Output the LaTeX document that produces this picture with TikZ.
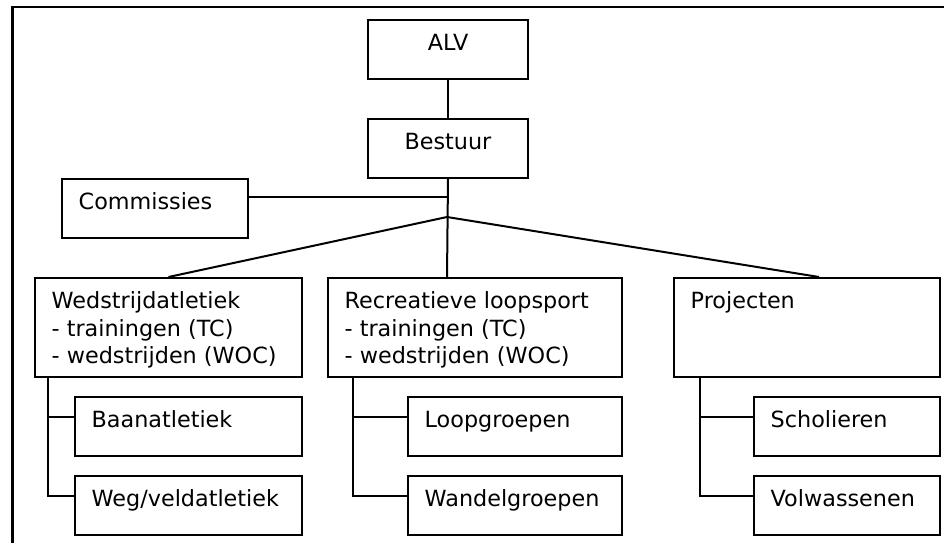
\documentclass[tikz,border=0pt]{standalone}
\usepackage{fontspec}
\setmainfont{DejaVu Sans}
\usetikzlibrary{calc}
\tikzset{
  box/.style={draw, line width=2pt, rectangle, inner sep=0pt, anchor=north west},
  txt/.style={anchor=base west, inner sep=0pt, font=\fontsize{22.3}{27.5}\selectfont},
  conn/.style={line width=2pt},
  frame/.style={line width=2.2pt}
}
\newcommand{\mybox}[5]{% name, x1, y1, x2, y2
  \node[box, minimum width={(#4-#2)*1pt}, minimum height={(#5-#3)*1pt}] (#1) at (#2,#3) {};}
\begin{document}
\begin{tikzpicture}[x=1pt,y=-1pt]
\useasboundingbox (0,0) rectangle (944,543);
\draw[frame] (12.5,543) -- (12.5,7) -- (944,7);
% boxes
\mybox{alv}{367}{19}{527}{78}
\mybox{bes}{367}{118}{527}{177}
\mybox{com}{61}{178}{247}{237}
\mybox{wed}{34}{277}{301}{376}
\mybox{rec}{327}{277}{621}{376}
\mybox{pro}{673}{277}{939}{376}
\mybox{baan}{74}{396}{301}{455}
\mybox{weg}{74}{475}{301}{534}
\mybox{loop}{407}{396}{621}{455}
\mybox{wand}{407}{475}{621}{534}
\mybox{schol}{753}{396}{939}{455}
\mybox{volw}{753}{475}{939}{534}
% texts
\node[txt, anchor=base] (talv) at ($(alv.north)+(0,31.5)$) {ALV};
\node[txt, anchor=base] (tbes) at ($(bes.north)+(0,31.5)$) {Bestuur};
\node[txt] (tcom) at ($(com.north west)+(17.5,31.5)$) {Commissies};
\node[txt] (twed) at ($(wed.north west)+(17.5,31.5)$) {\begin{tabular}[t]{@{}l@{}}Wedstrijdatletiek\\- trainingen (TC)\\- wedstrijden (WOC)\end{tabular}};
\node[txt] (trec) at ($(rec.north west)+(17.5,31.5)$) {\begin{tabular}[t]{@{}l@{}}Recreatieve loopsport\\- trainingen (TC)\\- wedstrijden (WOC)\end{tabular}};
\node[txt] (tpro) at ($(pro.north west)+(17.5,31.5)$) {Projecten};
\node[txt] (tbaan) at ($(baan.north west)+(17.5,31.5)$) {Baanatletiek};
\node[txt] (tweg) at ($(weg.north west)+(17.5,31.5)$) {Weg/veldatletiek};
\node[txt] (tloop) at ($(loop.north west)+(17.5,31.5)$) {Loopgroepen};
\node[txt] (twand) at ($(wand.north west)+(17.5,31.5)$) {Wandelgroepen};
\node[txt] (tschol) at ($(schol.north west)+(17.5,31.5)$) {Scholieren};
\node[txt] (tvolw) at ($(volw.north west)+(17.5,31.5)$) {Volwassenen};
% connectors
\coordinate (j) at (447,217);
\coordinate (cj) at (447,197);
\draw[conn] (alv.south) -- (bes.north);
\draw[conn] (bes.south) -- (j |- rec.north);
\draw[conn] (cj) -- (cj -| com.east);
\draw[conn] (j) -- (wed.north);
\draw[conn] (j) -- ($(pro.north)+(12,0)$);
% sub connectors
\coordinate (wv) at ($(wed.south west)+(13.7,0)$);
\draw[conn] (wv) |- ($(weg.west)+(0,-9.5)$);
\draw[conn] (wv |- baan.west) ++(0,-9.8) -- ($(baan.west)+(0,-9.8)$);
\coordinate (rv) at ($(rec.south west)+(26.4,0)$);
\draw[conn] (rv) |- ($(wand.west)+(0,-9.5)$);
\draw[conn] (rv |- loop.west) ++(0,-9.8) -- ($(loop.west)+(0,-9.8)$);
\coordinate (pv) at ($(pro.south west)+(27.3,0)$);
\draw[conn] (pv) |- ($(volw.west)+(0,-9.5)$);
\draw[conn] (pv |- schol.west) ++(0,-9.8) -- ($(schol.west)+(0,-9.8)$);
\end{tikzpicture}
\end{document}
